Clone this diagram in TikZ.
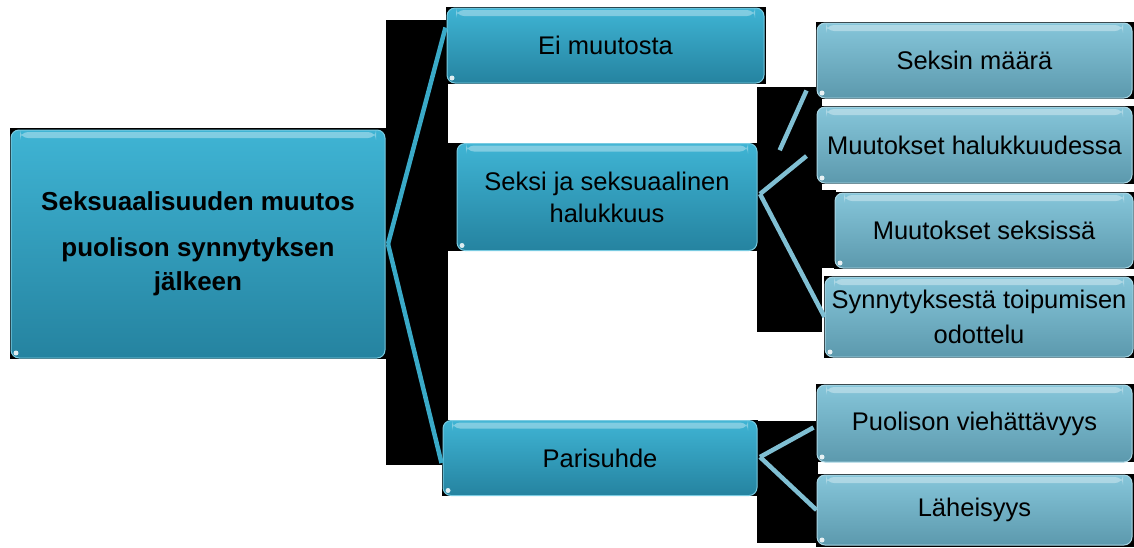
\documentclass[tikz,border=0pt]{standalone}
\usepackage{fontspec}
\setmainfont{Liberation Sans}
\usetikzlibrary{calc}
\definecolor{dtop}{HTML}{3FB4D4}
\definecolor{dbot}{HTML}{2583A0}
\definecolor{ltop}{HTML}{86C6DA}
\definecolor{lbot}{HTML}{5C99AD}
\definecolor{dline}{HTML}{3AAAC8}
\definecolor{lline}{HTML}{80BFD3}
\tikzset{
  box/.style={rounded corners=8pt, inner sep=0pt, align=center, text=black,
    font=\fontsize{25.5}{32}\selectfont,
    path picture={
      \fill[white,opacity=0.35] ([xshift=9pt,yshift=-2pt]path picture bounding box.north west)
        rectangle ([xshift=-9pt,yshift=-8pt]path picture bounding box.north east);
      \fill[white,opacity=0.85] ([xshift=5pt,yshift=5pt]path picture bounding box.south west) circle (2.5pt);
    }},
  darkbox/.style={box, top color=dtop, bottom color=dbot, draw=dtop!70!white, line width=1pt},
  lightbox/.style={box, top color=ltop, bottom color=lbot, draw=ltop!70!white, line width=1pt},
  dlink/.style={draw=dline, line width=4.5pt},
  llink/.style={draw=lline, line width=4.5pt},
  shadowbg/.style={fill=black}
}
\begin{document}
\begin{tikzpicture}[x=1pt,y=-1pt]
\useasboundingbox (0,0) rectangle (1134,547);
\fill[white] (0,0) rectangle (1134,547);
% black backgrounds (transparency artefacts)
\fill[shadowbg] (10,128) rectangle (388,359);
\fill[shadowbg] (386,20) rectangle (448,465);
\fill[shadowbg] (446,7) rectangle (766,84);
\fill[shadowbg] (448,143) rectangle (766,251);
\fill[shadowbg] (757,87) rectangle (822,332);
\fill[shadowbg] (757,190) rectangle (836,268);
\fill[shadowbg] (816,22) rectangle (1134,99);
\fill[shadowbg] (816,106) rectangle (1134,184);
\fill[shadowbg] (834,192) rectangle (1134,269);
\fill[shadowbg] (824,276) rectangle (1134,358);
\fill[shadowbg] (442,420) rectangle (758,496);
\fill[shadowbg] (757,421) rectangle (818,543);
\fill[shadowbg] (816,384) rectangle (1134,462);
\fill[shadowbg] (816,474) rectangle (1134,547);
% nodes
\node[darkbox, minimum width=374pt, minimum height=228pt,
  font=\fontsize{26}{34}\bfseries\selectfont] (root) at (198,244)
  {Seksuaalisuuden muutos\\[12pt]puolison synnytyksen\\jälkeen};
\node[darkbox, minimum width=317pt, minimum height=75pt] (ei) at (605.5,45.5) {Ei muutosta};
\node[darkbox, minimum width=300pt, minimum height=107pt] (seksi) at (607,197) {Seksi ja seksuaalinen\\halukkuus};
\node[darkbox, minimum width=314pt, minimum height=75pt] (pari) at (600,458) {Parisuhde};
\node[lightbox, minimum width=315pt, minimum height=75pt] (maara) at (974.5,60.5) {Seksin määrä};
\node[lightbox, minimum width=315pt, minimum height=76pt] (halu) at (974.5,145) {Muutokset halukkuudessa};
\node[lightbox, minimum width=298pt, minimum height=75pt] (muut) at (984,230.5) {Muutokset seksissä};
\node[lightbox, minimum width=308pt, minimum height=80pt, font=\fontsize{25.5}{35}\selectfont] (synn) at (979,317) {Synnytyksestä toipumisen\\odottelu};
\node[lightbox, minimum width=315pt, minimum height=77pt] (puol) at (974.5,423.5) {Puolison viehättävyys};
\node[lightbox, minimum width=315pt, minimum height=70pt] (lah) at (974.5,510) {Läheisyys};
% junctions
\coordinate (j0) at (388,244);
\coordinate (j1) at (760,194);
\coordinate (j2) at (760,457);
% connectors
\draw[dlink] (j0) -- ($(ei.north west)+(-1,20)$);
\draw[dlink] (j0) -- ($(pari.west)+(-1,5)$);
\draw[llink, shorten <=48pt] (j1) -- ($(maara.west)+(-10,30)$);
\draw[llink] (j1) -- ($(halu.west)+(-10,11)$);
\draw[llink] (j1) -- (synn.west);
\draw[llink] (j2) -- ($(puol.west)+(-3,4)$);
\draw[llink] (j2) -- (lah.west);
\end{tikzpicture}
\end{document}
